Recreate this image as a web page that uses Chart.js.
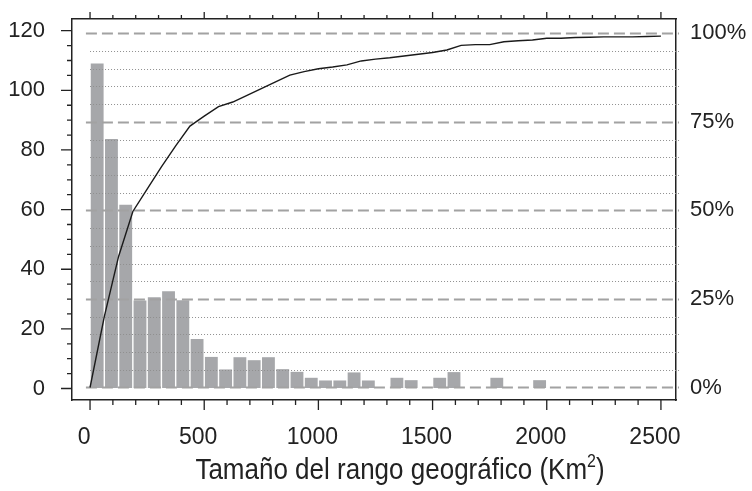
<!DOCTYPE html>
<html><head><meta charset="utf-8">
<script src="https://cdn.jsdelivr.net/npm/chart.js@4.4.1/dist/chart.umd.min.js"></script>
<style>html,body{margin:0;padding:0;background:#fff}#wrap{width:752px;height:491px}</style>
</head><body><div id="wrap"><canvas id="c" width="752" height="491"></canvas></div>
<script>
// ---- data ----
const binEdges = [0,62.5,125,187.5,250,312.5,375,437.5,500,562.5,625,687.5,750,812.5,875,937.5,1000,1062.5,1125,1187.5,1250,1312.5,1375,1437.5,1500,1562.5,1625,1687.5,1750,1812.5,1875,1937.5,2000,2062.5,2125,2187.5,2250,2312.5,2375,2437.5,2500];
const binCounts = [109,83.7,61.6,29.5,30.6,32.6,29.6,16.6,10.6,6.4,10.5,9.5,10.5,6.5,5.6,3.6,2.7,2.7,5.4,2.7,0,3.6,2.8,0,3.6,5.5,0,0,3.6,0,0,2.8,0,0,0,0,0,0,0,0];
const cumPercent = [0,20.0,37.0,49.7,56.0,62.3,68.2,73.8,76.6,79.3,80.6,82.5,84.4,86.3,88.2,89.2,90.0,90.5,91.1,92.2,92.7,93.1,93.6,94.1,94.6,95.3,96.6,96.8,96.8,97.6,97.9,98.1,98.6,98.6,98.8,98.9,99.0,99.0,99.0,99.1,99.2];
const xTickLabels = [0,500,1000,1500,2000,2500];
const xMinorTicks = [0,100,200,300,400,500,600,700,800,900,1000,1100,1200,1300,1400,1500,1600,1700,1800,1900,2000,2100,2200,2300,2400,2500];
const yTickLabels = [0,20,40,60,80,100,120];
const yMinorTicks = [0,5,10,15,20,25,30,35,40,45,50,55,60,65,70,75,80,85,90,95,100,105,110,115,120];
const pctTickLabels = [0,25,50,75,100];
const pctGrid = [0,5,10,15,20,25,30,35,40,45,50,55,60,65,70,75,80,85,90,95,100];
const xTitle = 'Tamaño del rango geográfico (Km';
const xTitleSup = '2';

const FONT = "'Liberation Sans', Arial, Helvetica, sans-serif";
const barData = binCounts.map((c,i)=>({x:(binEdges[i]+binEdges[i+1])/2, y:c}));
const lineData = cumPercent.map((p,i)=>({x:binEdges[i], y:p}));

const gridPlugin = {
  id:'gridPlugin',
  afterDatasetDraw(chart, args){
    if(args.index!==0) return;
    const {ctx, chartArea, scales:{x, y2}} = chart;
    ctx.save();
    pctGrid.forEach(v=>{
      const py = Math.round(y2.getPixelForValue(v))+0.5;
      ctx.beginPath();
      if(v%25===0){
        ctx.setLineDash([11,5]); ctx.strokeStyle='#a2a2a2'; ctx.lineWidth=2;
        ctx.moveTo(x.getPixelForValue(-18), py);
      } else {
        ctx.setLineDash([1,2]); ctx.strokeStyle='#909090'; ctx.lineWidth=1;
        ctx.moveTo(x.getPixelForValue(0), py);
      }
      ctx.lineTo(chartArea.right+3, py);
      ctx.stroke();
    });
    ctx.restore();
  }
};

const tickPlugin = {
  id:'tickPlugin',
  afterDraw(chart){
    const {ctx, chartArea:a, scales:{x, y}} = chart;
    ctx.save();
    ctx.strokeStyle='#222'; ctx.lineWidth=1.3; ctx.setLineDash([]);
    ctx.beginPath();
    xMinorTicks.forEach(v=>{
      const px = x.getPixelForValue(v);
      const major = v%500===0;
      ctx.moveTo(px, a.bottom); ctx.lineTo(px, a.bottom + (major?10:5));
      ctx.moveTo(px, a.top); ctx.lineTo(px, a.top - (major?7:4));
    });
    yMinorTicks.forEach(v=>{
      const py = y.getPixelForValue(v);
      const major = v%20===0;
      ctx.moveTo(a.left, py); ctx.lineTo(a.left - (major?11:5), py);
    });
    ctx.stroke();
    ctx.restore();
  }
};

const titlePlugin = {
  id:'titlePlugin',
  afterDraw(chart){
    const ctx = chart.ctx;
    ctx.save();
    ctx.fillStyle='#222';
    ctx.textBaseline='alphabetic';
    ctx.font = "26px " + FONT;
    const w1 = ctx.measureText(xTitle).width;
    ctx.font = "16px " + FONT;
    const w2 = ctx.measureText(xTitleSup).width;
    ctx.font = "26px " + FONT;
    const w3 = ctx.measureText(')').width;
    const total = w1+w2+w3;
    const sx = 400 - total/2;
    ctx.translate(0, 479);
    ctx.scale(1, 1.13);
    ctx.textAlign='left';
    ctx.fillText(xTitle, sx, 0);
    ctx.font = "16px " + FONT;
    ctx.fillText(xTitleSup, sx+w1, -11);
    ctx.font = "26px " + FONT;
    ctx.fillText(')', sx+w1+w2, 0);
    ctx.restore();
  }
};

const hiddenTicks = (len)=>({display:true, drawOnChartArea:false, drawTicks:true, tickLength:len, tickColor:'rgba(0,0,0,0)'});

new Chart(document.getElementById('c'), {
  data:{
    datasets:[
      {type:'bar', data:barData, xAxisID:'x', yAxisID:'y', backgroundColor:'#a6a7aa', borderWidth:0, barPercentage:0.9, categoryPercentage:1, order:2},
      {type:'line', data:lineData, xAxisID:'x', yAxisID:'y2', borderColor:'#1a1a1a', borderWidth:1.4, pointRadius:0, tension:0, fill:false, order:1}
    ]
  },
  options:{
    responsive:false, animation:false, devicePixelRatio:1,
    layout:{padding:0},
    plugins:{legend:{display:false}, tooltip:{enabled:false}, title:{display:false}},
    scales:{
      x:{type:'linear', position:'bottom', min:-79, max:2566, offset:false,
         afterBuildTicks:s=>{s.ticks = xTickLabels.map(v=>({value:v}));},
         grid:hiddenTicks(21),
         border:{display:true, color:'#222', width:1.5},
         ticks:{padding:3, labelOffset:-6, color:'#222', font:{size:23, family:FONT}, maxRotation:0, autoSkip:false, callback:v=>String(v)},
         afterFit:s=>{s.height=91;}},
      xTop:{type:'linear', position:'top', min:-79, max:2566, offset:false,
         grid:{display:false, drawTicks:false},
         border:{display:true, color:'#222', width:1.5},
         ticks:{display:false},
         afterFit:s=>{s.height=19;}},
      y:{type:'linear', position:'left', min:-3.85, max:123.92,
         afterBuildTicks:s=>{s.ticks = yTickLabels.map(v=>({value:v}));},
         grid:hiddenTicks(24),
         border:{display:true, color:'#222', width:1.5},
         ticks:{padding:3, color:'#222', font:{size:22, family:FONT}, callback:v=>String(v)},
         afterFit:s=>{s.width=72;}},
      y2:{type:'linear', position:'right', min:-3.53, max:104.04,
         afterBuildTicks:s=>{s.ticks = pctTickLabels.map(v=>({value:v}));},
         grid:hiddenTicks(11),
         border:{display:true, color:'#222', width:1.5},
         ticks:{padding:3, color:'#222', font:{size:22, family:FONT}, callback:v=>v+'%'},
         afterFit:s=>{s.width=76;}}
    }
  },
  plugins:[gridPlugin, tickPlugin, titlePlugin]
});
</script>
</body></html>
